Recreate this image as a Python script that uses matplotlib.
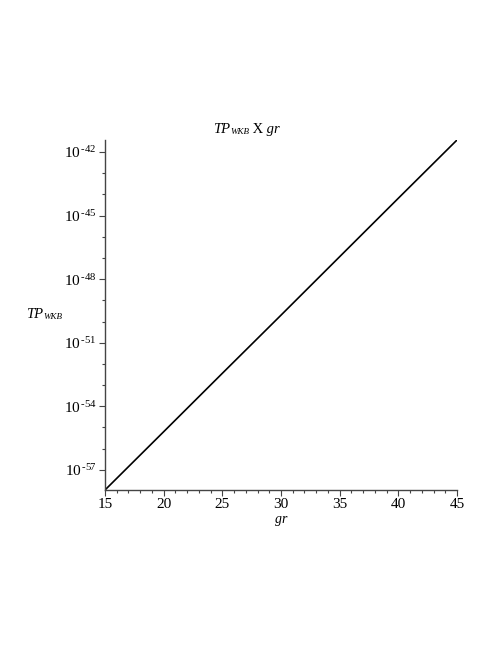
import matplotlib
matplotlib.use('Agg')
import matplotlib.pyplot as plt
from matplotlib.ticker import FixedLocator, NullFormatter

plt.rcParams['font.family'] = 'Liberation Serif'
plt.rcParams['mathtext.fontset'] = 'custom'
plt.rcParams['mathtext.rm'] = 'Liberation Serif'
plt.rcParams['mathtext.it'] = 'Liberation Serif:italic'

# --- data ---
gr = [15, 20, 25, 30, 35, 40, 45]
tp_wkb = [1.12e-58, 6.3e-56, 3.6e-53, 2.0e-50, 1.15e-47, 6.6e-45, 3.7e-42]

x_ticks = [15, 20, 25, 30, 35, 40, 45]
y_exponents = [-57, -54, -51, -48, -45, -42]
y_tick_labels = [r'$10^{\,\text{-}%d}$' % -e for e in y_exponents]

# --- plot ---
fig = plt.figure(figsize=(4.98, 6.45), dpi=100)
ax = fig.add_axes([105 / 498, 1 - 490 / 645, 352 / 498, 350 / 645])

ax.plot(gr, tp_wkb, color='black', lw=1.2, solid_capstyle='butt')
ax.set_yscale('log')
ax.set_xlim(15, 45)
ax.set_ylim(tp_wkb[0], tp_wkb[-1])

ax.xaxis.set_major_locator(FixedLocator(x_ticks))
ax.xaxis.set_minor_locator(FixedLocator(range(15, 46)))
ax.yaxis.set_major_locator(FixedLocator([10.0 ** e for e in y_exponents]))
ax.yaxis.set_minor_locator(FixedLocator([10.0 ** e for e in range(-58, -40)]))
ax.yaxis.set_minor_formatter(NullFormatter())
ax.set_yticklabels(y_tick_labels)

for s in ['top', 'right']:
    ax.spines[s].set_visible(False)
for s in ['left', 'bottom']:
    ax.spines[s].set_color('#444444')
    ax.spines[s].set_linewidth(1.0)
ax.tick_params(which='major', length=4, width=0.8, color='#444444', labelsize=11, pad=2)
ax.tick_params(which='minor', length=2.5, width=0.8, color='#444444')

ax.set_xlabel('gr', fontstyle='italic', fontsize=10, labelpad=1)

# y label: TP with small-caps WKB
yl = fig.text(26 / 498, 1 - 318 / 645, 'TP', fontstyle='italic', fontsize=10.5,
              va='baseline', ha='left')
ax.annotate('WKB', xy=(1, 0), xycoords=yl, fontstyle='italic', fontsize=6.5,
            va='bottom', ha='left', annotation_clip=False)

# title
tt = fig.text(213 / 498, 1 - 133 / 645, 'TP', fontstyle='italic', fontsize=10.5,
              va='baseline', ha='left')
tw = ax.annotate('WKB', xy=(1, 0), xycoords=tt, fontstyle='italic', fontsize=6.5,
                 va='bottom', ha='left', annotation_clip=False)
tx = ax.annotate(' X', xy=(1, 0), xycoords=tw, fontsize=10.5,
                 va='bottom', ha='left', annotation_clip=False)
ax.annotate(' gr', xy=(1, 0), xycoords=tx, fontstyle='italic', fontsize=10.5,
            va='bottom', ha='left', annotation_clip=False)

fig.savefig('out.png', dpi=100)
